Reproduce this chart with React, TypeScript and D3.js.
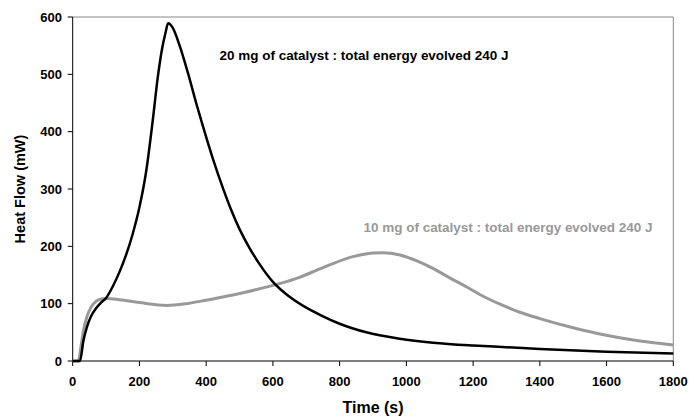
import React from "react";
import * as d3 from "d3";

// readings: time (s) and heat flow (mW)
const blackTime = [0, 22, 32, 42, 55, 70, 85, 100, 120, 140, 160, 180, 200, 220, 240, 255, 268, 278, 286, 300, 320, 347, 370, 390, 420, 450, 476, 500, 530, 560, 600, 650, 700, 750, 800, 880, 980, 1080, 1200, 1300, 1400, 1600, 1800];
const blackFlow = [0, 0, 35, 58, 78, 92, 102, 110, 130, 155, 185, 222, 268, 330, 420, 495, 545, 572, 589, 581, 551, 499, 450, 410, 353, 302, 262, 230, 197, 169, 138, 112, 93, 78, 65, 50, 39, 32, 27, 24, 21, 16, 13];

const grayTime = [0, 17, 25, 32, 42, 55, 70, 85, 102, 140, 200, 282, 340, 400, 480, 560, 620, 680, 730, 780, 840, 900, 930, 981, 1030, 1081, 1130, 1181, 1230, 1281, 1340, 1400, 1500, 1580, 1700, 1800];
const grayFlow = [0, 0, 26, 52, 76, 94, 104, 108, 109, 107, 102, 97, 100, 106, 115, 126, 135, 146, 158, 170, 182, 188.5, 189, 185, 175, 161, 145, 129, 113, 99, 85, 74, 58, 47, 35, 28];

const xTicks = [0, 200, 400, 600, 800, 1000, 1200, 1400, 1600, 1800];
const yTicks = [0, 100, 200, 300, 400, 500, 600];

const label20 = "20 mg of catalyst : total energy evolved 240 J";
const label10 = "10 mg of catalyst : total energy evolved 240 J";

const W = 689;
const H = 416;
const left = 72.7;
const right = 673.3;
const top = 17;
const bottom = 361;

const font = "'Liberation Sans', Arial, sans-serif";

export default function App() {
  const x = d3.scaleLinear().domain([0, 1800]).range([left, right]);
  const y = d3.scaleLinear().domain([0, 600]).range([bottom, top]);

  const line = d3
    .line<[number, number]>()
    .x((d) => x(d[0]))
    .y((d) => y(d[1]))
    .curve(d3.curveMonotoneX);

  const black = blackTime.map((t, i) => [t, blackFlow[i]] as [number, number]);
  const gray = grayTime.map((t, i) => [t, grayFlow[i]] as [number, number]);

  return (
    <svg
      width={W}
      height={H}
      style={{ position: "absolute", left: 0, top: 0, background: "#fff" }}
      fontFamily={font}
      fontWeight="bold"
    >
      {/* frame */}
      <line x1={left} x2={right} y1={top} y2={top} stroke="#888" strokeWidth={1} />
      <line x1={right} x2={right} y1={top} y2={bottom} stroke="#888" strokeWidth={1} />

      {/* y axis */}
      <line x1={left} x2={left} y1={top} y2={bottom} stroke="#000" strokeWidth={1} />
      {yTicks.map((v) => (
        <g key={"y" + v}>
          <line x1={left - 5} x2={left} y1={y(v)} y2={y(v)} stroke="#000" />
          <text x={62} y={y(v) + 4.5} textAnchor="end" fontSize={13}>
            {v}
          </text>
        </g>
      ))}

      {/* x axis */}
      {xTicks.map((t) => (
        <g key={"x" + t}>
          <line x1={x(t)} x2={x(t)} y1={bottom} y2={bottom + 5} stroke="#000" />
          <text x={x(t)} y={386} textAnchor="middle" fontSize={13}>
            {t}
          </text>
        </g>
      ))}

      {/* curves */}
      <path d={line(gray) ?? ""} fill="none" stroke="#999" strokeWidth={3} />
      <path d={line(black) ?? ""} fill="none" stroke="#000" strokeWidth={2.5} />
      <line x1={left} x2={right} y1={bottom} y2={bottom} stroke="#000" strokeWidth={1} />

      {/* annotations */}
      <text x={219.5} y={59.5} fontSize={12} textLength={289} lengthAdjust="spacingAndGlyphs" fill="#000">
        {label20}
      </text>
      <text x={363.5} y={232} fontSize={12} textLength={289} lengthAdjust="spacingAndGlyphs" fill="#999">
        {label10}
      </text>

      {/* axis titles */}
      <text x={373} y={413} textAnchor="middle" fontSize={16}>
        Time (s)
      </text>
      <text transform={`translate(25,189) rotate(-90)`} textAnchor="middle" fontSize={14.5}>
        Heat Flow (mW)
      </text>
    </svg>
  );
}
